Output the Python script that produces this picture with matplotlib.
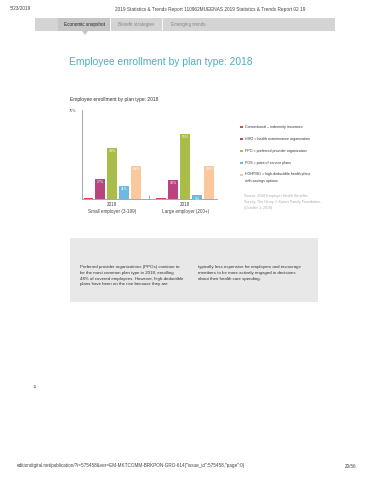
import numpy as np
import matplotlib.pyplot as plt
from matplotlib.patches import Rectangle, Polygon

# Data
groups = ['2018\nSmall employer (3-199)', '2018\nLarge employer (200+)']
plans = ['Conventional – indemnity insurance',
         'HMO = health maintenance organization',
         'PPO = preferred provider organization',
         'POS = point of service plans',
         'HDHP/SO = high-deductible health plans\nwith savings options']
small_vals = [1, 17, 43, 11, 28]
large_vals = [1, 16, 55, 3, 28]
colors = ['#d8463f', '#b8457f', '#a9bd48', '#6cb9e2', '#fbc79c']

plt.rcParams['font.family'] = ['Liberation Sans', 'DejaVu Sans']

fig = plt.figure(figsize=(3.7, 4.8), dpi=100)
W, H = 370, 480

def px(x, y):
    return x / W, 1 - y / H

# page header
fig.text(*px(10, 9), '5/23/2019', fontsize=3.4, color='#444444', va='center')
fig.text(*px(210, 9), '2019 Statistics & Trends Report 110962MUEENAS 2019 Statistics & Trends Report 02 19',
         fontsize=3.4, color='#444444', va='center', ha='center')
fig.add_artist(Rectangle(px(35, 31), 300 / W, 13 / H, transform=fig.transFigure,
                         facecolor='#d4d4d4', edgecolor='none'))
fig.add_artist(Rectangle(px(58, 31), 52 / W, 13 / H, transform=fig.transFigure,
                         facecolor='#c6c6c6', edgecolor='none'))
fig.add_artist(Polygon([px(82, 31), px(88, 31), px(85, 35)], transform=fig.transFigure,
                       facecolor='#c6c6c6', edgecolor='none'))
for xl in [110, 162]:
    fig.add_artist(plt.Line2D([xl / W, xl / W], [1 - 31 / H, 1 - 18 / H], transform=fig.transFigure,
                              color='white', lw=0.6))
fig.text(*px(84, 24.5), 'Economic snapshot', fontsize=3.3, color='#222222', va='center', ha='center')
fig.text(*px(136, 24.5), 'Benefit strategies', fontsize=3.3, color='#888888', va='center', ha='center')
fig.text(*px(188, 24.5), 'Emerging trends', fontsize=3.3, color='#888888', va='center', ha='center')

# titles
fig.text(*px(69, 62), 'Employee enrollment by plan type: 2018', fontsize=7.4,
         color='#48b2bf', va='center')
fig.text(*px(70, 99), 'Employee enrollment by plan type: 2018', fontsize=3.5,
         color='#333333', va='center')

# chart
ax = fig.add_axes([82 / W, 1 - 199 / H, 135 / W, 89 / H])
centers = np.array([0, 6.1])
offsets = np.arange(-2, 3)
for i in range(len(plans)):
    vals = [small_vals[i], large_vals[i]]
    xs = centers + offsets[i]
    ax.bar(xs, vals, width=0.82, color=colors[i])
    for x, v in zip(xs, vals):
        if v >= 3:
            ax.text(x, v - 1.2, f'{v}%', ha='center', va='top', fontsize=2.6, color='white')
ax.set_xlim(-2.54, 8.77)
ax.set_ylim(0, 75)
ax.set_yticks([75])
ax.set_yticklabels(['75%'], fontsize=2.8, color='#555555')
ax.tick_params(axis='y', length=0, pad=4)
ax.set_xticks(centers)
ax.set_xticklabels(groups, fontsize=3.3, color='#444444', linespacing=1.5)
ax.tick_params(axis='x', length=0, pad=2)
ax.set_xticks([np.mean(centers)], minor=True)
ax.tick_params(axis='x', which='minor', direction='in', length=3, color='#888888', width=0.5)
for s in ['top', 'right']:
    ax.spines[s].set_visible(False)
for s in ['left', 'bottom']:
    ax.spines[s].set_color('#999999')
    ax.spines[s].set_linewidth(0.6)

# legend
ly = [127, 139, 151, 163, 175]
for y, lab, c in zip(ly, plans, colors):
    fig.add_artist(Rectangle(px(240, y + 1.3), 2.6 / W, 2.6 / H, transform=fig.transFigure,
                             facecolor=c, edgecolor='none'))
    if '\n' in lab:
        fig.text(*px(245, y - 2.5), lab, fontsize=2.6, color='#333333', va='top', linespacing=1.7)
    else:
        fig.text(*px(245, y), lab, fontsize=2.6, color='#333333', va='center')
fig.text(*px(244, 194), 'Source: 2018 Employer Health Benefits\nSurvey, The Henry J. Kaiser Family Foundation,\n(October 3, 2018).',
         fontsize=2.6, color='#aaaaaa', va='top', linespacing=1.6)

# text box
fig.add_artist(Rectangle(px(70, 302), 248 / W, 64 / H, transform=fig.transFigure,
                         facecolor='#e8e8e8', edgecolor='none'))
fig.text(*px(80, 265), 'Preferred provider organizations (PPOs) continue to\n'
         'be the most common plan type in 2018, enrolling\n'
         '48% of covered employees. However, high-deductible\n'
         'plans have been on the rise because they are',
         fontsize=3.15, color='#333333', va='top', linespacing=1.6)
fig.text(*px(198, 265), 'typically less expensive for employers and encourage\n'
         'members to be more actively engaged in decisions\n'
         'about their health care spending.',
         fontsize=3.15, color='#333333', va='top', linespacing=1.6)

# page number and footer
fig.text(*px(33, 387), '11', fontsize=3, color='#555555', va='center')
fig.text(*px(17, 466), 'editiondigital.net/publication/?i=575458&ver=EM-MKTCOMM-BRKPON-GRO-614{"issue_id":575458,"page":0}',
         fontsize=3.3, color='#444444', va='center')
fig.text(*px(356, 466), '20/56', fontsize=3.3, color='#444444', va='center', ha='right')

fig.savefig('out.png', dpi=100, facecolor='white')
